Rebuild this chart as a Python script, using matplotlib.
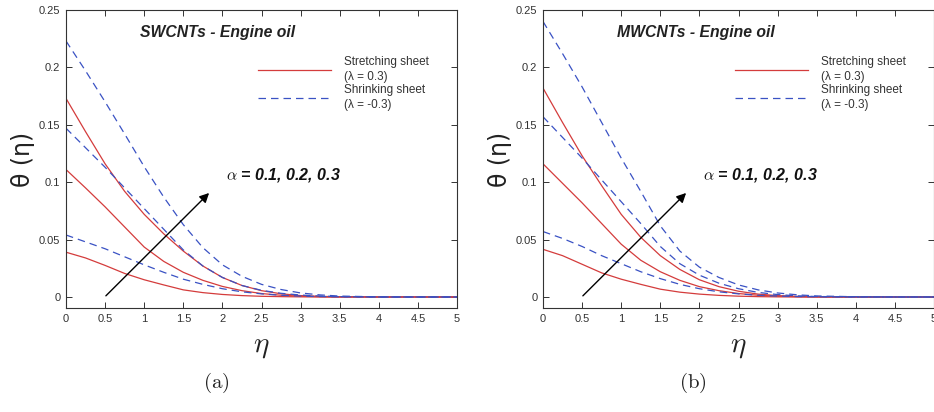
import matplotlib
matplotlib.use("Agg")
import matplotlib.pyplot as plt

plt.rcParams['mathtext.fontset'] = 'cm'
plt.rcParams['font.family'] = ['Liberation Sans', 'DejaVu Sans']

# eta grid shared by every curve
eta = [0, 0.25, 0.5, 0.75, 1.0, 1.25, 1.5, 1.75, 2.0, 2.25, 2.5, 2.75, 3.0, 3.25, 3.5, 4.0, 4.5, 5.0]

# (a) SWCNTs - Engine oil, alpha = 0.1, 0.2, 0.3
sw_stretch = [
    [0.039, 0.034, 0.0275, 0.0205, 0.015, 0.0105, 0.0062, 0.0038, 0.0022, 0.0012, 0.0006, 0.0003, 0.0001, 0, 0, 0, 0, 0],
    [0.111, 0.095, 0.0785, 0.061, 0.0435, 0.031, 0.0215, 0.0145, 0.0092, 0.0055, 0.003, 0.0015, 0.0007, 0.0003, 0.0001, 0, 0, 0],
    [0.173, 0.144, 0.116, 0.092, 0.072, 0.055, 0.040, 0.027, 0.017, 0.010, 0.0055, 0.0028, 0.0012, 0.0005, 0.0002, 0, 0, 0],
]
sw_shrink = [
    [0.054, 0.048, 0.042, 0.035, 0.028, 0.0215, 0.0155, 0.011, 0.0072, 0.0045, 0.0027, 0.0015, 0.0008, 0.0004, 0.0002, 0, 0, 0],
    [0.147, 0.130, 0.113, 0.095, 0.077, 0.059, 0.041, 0.027, 0.017, 0.010, 0.0058, 0.0032, 0.0017, 0.0008, 0.0003, 0, 0, 0],
    [0.223, 0.197, 0.170, 0.142, 0.1135, 0.087, 0.063, 0.043, 0.028, 0.018, 0.011, 0.0065, 0.0035, 0.0018, 0.0008, 0.0001, 0, 0],
]

# (b) MWCNTs - Engine oil
mw_stretch = [
    [0.0415, 0.036, 0.0285, 0.021, 0.0155, 0.011, 0.0068, 0.0042, 0.0025, 0.0014, 0.0007, 0.0003, 0.0001, 0, 0, 0, 0, 0],
    [0.116, 0.099, 0.082, 0.064, 0.046, 0.032, 0.022, 0.0145, 0.009, 0.0055, 0.003, 0.0015, 0.0007, 0.0003, 0.0001, 0, 0, 0],
    [0.182, 0.152, 0.123, 0.097, 0.072, 0.052, 0.036, 0.024, 0.015, 0.009, 0.005, 0.0025, 0.0012, 0.0005, 0.0002, 0, 0, 0],
]
mw_shrink = [
    [0.057, 0.051, 0.044, 0.036, 0.029, 0.022, 0.016, 0.011, 0.0072, 0.0045, 0.0027, 0.0015, 0.0008, 0.0004, 0.0002, 0, 0, 0],
    [0.157, 0.139, 0.121, 0.102, 0.083, 0.064, 0.044, 0.029, 0.019, 0.012, 0.0072, 0.004, 0.0021, 0.001, 0.0004, 0.0001, 0, 0],
    [0.240, 0.212, 0.183, 0.152, 0.121, 0.092, 0.062, 0.040, 0.026, 0.017, 0.0105, 0.0062, 0.0035, 0.0019, 0.0009, 0.0002, 0, 0],
]

titles = ['SWCNTs - Engine oil', 'MWCNTs - Engine oil']
panel_tags = ['(a)', '(b)']
alpha_text = r'$\alpha$ = 0.1, 0.2, 0.3'
xticks = [0, 0.5, 1, 1.5, 2, 2.5, 3, 3.5, 4, 4.5, 5]
yticks = [0, 0.05, 0.1, 0.15, 0.2, 0.25]

RED = '#d43c3c'
BLUE = '#3a52c4'

fig = plt.figure(figsize=(9.34, 4.12), dpi=100)
ax_a = fig.add_axes([66 / 934, 1 - 308 / 412, 391 / 934, 298 / 412])
ax_b = fig.add_axes([543 / 934, 1 - 308 / 412, 391 / 934, 298 / 412])

panels = [(ax_a, sw_stretch, sw_shrink), (ax_b, mw_stretch, mw_shrink)]
for i, (ax, stretch, shrink) in enumerate(panels):
    for k in range(3):
        ax.plot(eta, stretch[k], color=RED, lw=0.9,
                label='Stretching sheet\n(λ = 0.3)' if k == 0 else None)
    for k in range(3):
        ax.plot(eta, shrink[k], color=BLUE, lw=0.9, dashes=(6, 4),
                label='Shrinking sheet\n(λ = -0.3)' if k == 0 else None)

    ax.set_xlim(0, 5)
    ax.set_ylim(-0.0096, 0.25)
    ax.set_xticks(xticks)
    ax.set_xticklabels(['0', '0.5', '1', '1.5', '2', '2.5', '3', '3.5', '4', '4.5', '5'])
    ax.set_yticks(yticks)
    ax.set_yticklabels(['0', '0.05', '0.1', '0.15', '0.2', '0.25'])
    ax.tick_params(direction='in', top=True, right=True, length=4, width=0.7,
                   labelsize=8, labelcolor='#333333', color='#333333', pad=4)
    for s in ax.spines.values():
        s.set_color('#333333')
        s.set_linewidth(0.8)

    ax.set_ylabel('θ (η)', fontsize=17, family='DejaVu Sans', color='#222222')
    ax.yaxis.set_label_coords(-0.08, 0.5)
    ax.set_xlabel(r'$\eta$', fontsize=21, color='#222222')
    ax.xaxis.set_label_coords(0.5, -0.08)

    ax.text(0.95, 0.230, titles[i], fontsize=11.3, fontweight='bold', style='italic',
            ha='left', va='center', color='#222222')
    ax.text(2.05, 0.1063, alpha_text, fontsize=11.5, fontweight='bold', style='italic',
            ha='left', va='center', color='#111111')
    ax.annotate('', xy=(1.83, 0.0906), xytext=(0.51, 0.001),
                arrowprops=dict(arrowstyle='-|>', color='black', lw=1.0,
                                mutation_scale=14, shrinkA=0, shrinkB=0))

    leg = ax.legend(loc='upper left', bbox_to_anchor=(0.491, 0.845), frameon=False,
                    fontsize=8.5, handlelength=6.2, handletextpad=1.1, labelspacing=0.1,
                    borderpad=0, borderaxespad=0)
    for t in leg.get_texts():
        t.set_color('#333333')
        t.set_linespacing(1.3)

    fig.text((66 + 150 + i * 477) / 934, 1 - 383 / 412, r'$\mathrm{' + panel_tags[i] + '}$',
             fontsize=15, ha='center', va='center', color='#222222')

fig.savefig('out.png', dpi=100)
